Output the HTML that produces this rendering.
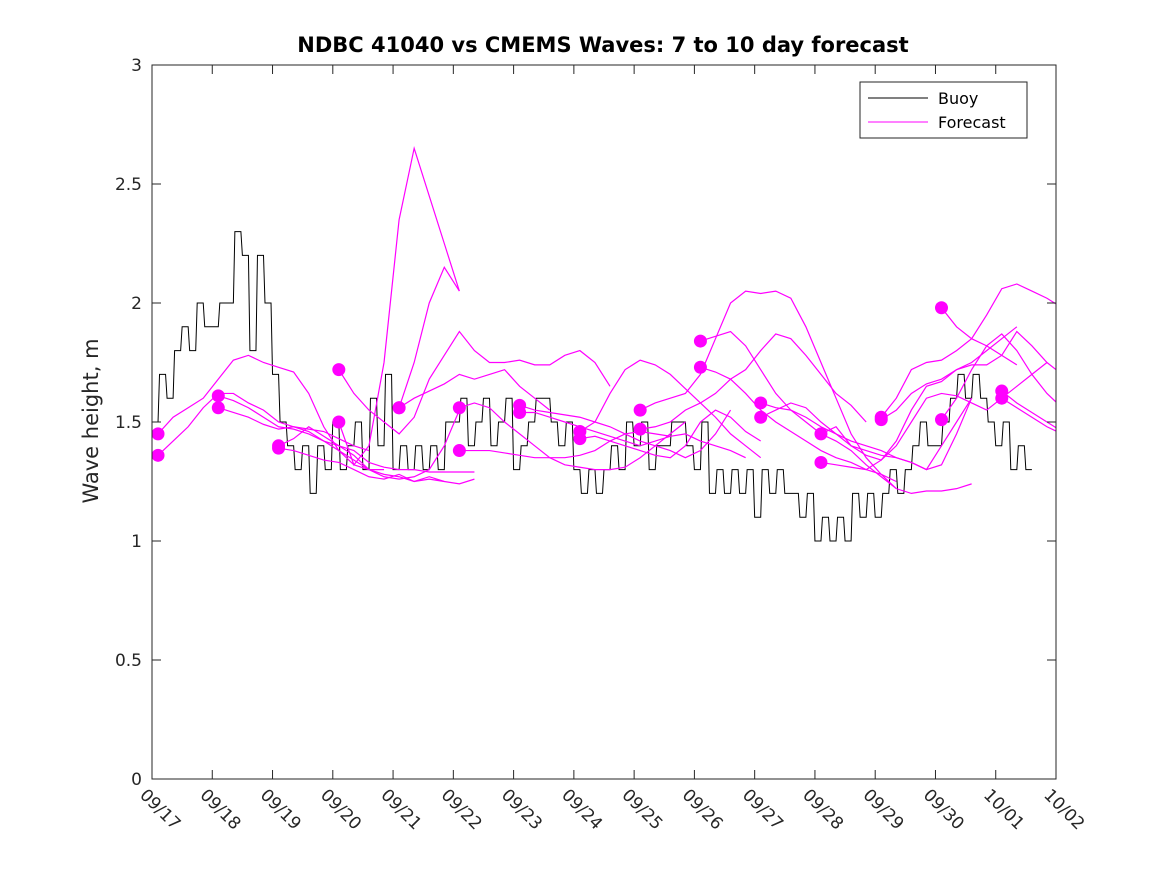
<!DOCTYPE html>
<html><head><meta charset="utf-8"><style>
body{margin:0;background:#fff}
svg{display:block;font-family:"DejaVu Sans","Liberation Sans",sans-serif}
</style></head><body>
<svg id="chart" width="1167" height="875">
<rect x="0" y="0" width="1167" height="875" fill="#fff"/>
<text x="603" y="52" text-anchor="middle" font-size="21" font-weight="bold" fill="#000">NDBC 41040 vs CMEMS Waves: 7 to 10 day forecast</text>
<text transform="translate(98,421) rotate(-90)" text-anchor="middle" font-size="21" fill="#262626">Wave height, m</text>
<defs><clipPath id="pc"><rect x="152" y="65" width="904" height="714"/></clipPath></defs>
<g id="marks" clip-path="url(#pc)"></g>
<g id="dots"></g>
<rect x="152" y="65" width="904" height="714" fill="none" stroke="#262626" stroke-width="1"/>
<g id="axes"></g>
<g>
<rect x="860" y="82" width="167" height="56" fill="#fff" stroke="#262626" stroke-width="1"/>
<line x1="868" y1="98" x2="928" y2="98" stroke="#000" stroke-width="1"/>
<text x="938" y="104" font-size="16" fill="#000">Buoy</text>
<line x1="868" y1="122" x2="928" y2="122" stroke="#f0f" stroke-width="1"/>
<text x="938" y="128" font-size="16" fill="#000">Forecast</text>
</g>
</svg>
<script>
const xTickLabels=["09/17","09/18","09/19","09/20","09/21","09/22","09/23","09/24","09/25","09/26","09/27","09/28","09/29","09/30","10/01","10/02"];
const yTicks=[0,0.5,1,1.5,2,2.5,3];
const yTickLabels=["0","0.5","1","1.5","2","2.5","3"];
const buoyStep=0.125;
const buoyValues=[1.5,1.7,1.6,1.8,1.9,1.8,2.0,1.9,
1.9,2.0,2.0,2.3,2.2,1.8,2.2,2.0,
1.7,1.5,1.4,1.3,1.4,1.2,1.4,1.3,
1.5,1.3,1.4,1.5,1.3,1.6,1.4,1.7,
1.3,1.4,1.3,1.4,1.3,1.4,1.3,1.5,
1.5,1.6,1.4,1.5,1.6,1.4,1.5,1.6,
1.3,1.4,1.5,1.6,1.6,1.5,1.4,1.5,
1.3,1.2,1.3,1.2,1.3,1.4,1.3,1.5,
1.4,1.5,1.3,1.4,1.4,1.5,1.5,1.4,
1.3,1.5,1.2,1.3,1.2,1.3,1.2,1.3,
1.1,1.3,1.2,1.3,1.2,1.2,1.1,1.2,
1.0,1.1,1.0,1.1,1.0,1.2,1.1,1.2,
1.1,1.2,1.3,1.2,1.3,1.4,1.5,1.4,
1.4,1.5,1.6,1.7,1.6,1.7,1.6,1.5,
1.4,1.5,1.3,1.4,1.3];
const fcStep=0.25;
const fcStarts=[0.1,0.1,1.1,1.1,2.1,2.1,3.1,3.1,4.1,4.1,5.1,5.1,6.1,6.1,7.1,7.1,8.1,8.1,9.1,9.1,10.1,10.1,11.1,11.1,12.1,12.1,13.1,13.1,14.1,14.1];
const fcValues=[
[1.45,1.52,1.56,1.60,1.68,1.76,1.78,1.75,1.73,1.71,1.62,1.48,1.38,1.32,1.30,1.30],
[1.36,1.42,1.48,1.56,1.62,1.62,1.58,1.55,1.50,1.48,1.47,1.46,1.43,1.40,1.38],
[1.61,1.59,1.56,1.52,1.48,1.47,1.45,1.42,1.40,1.36,1.30,1.27,1.26,1.27,1.30,1.40,1.55],
[1.56,1.54,1.52,1.49,1.47,1.48,1.46,1.42,1.38,1.34,1.30,1.28,1.27,1.25,1.26,1.25],
[1.40,1.43,1.48,1.44,1.40,1.38,1.33,1.31,1.30,1.30,1.29,1.29,1.29,1.29],
[1.39,1.38,1.36,1.34,1.33,1.30,1.27,1.26,1.28,1.25,1.27,1.25,1.24,1.26],
[1.72,1.62,1.55,1.50,1.45,1.52,1.68,1.78,1.88,1.80,1.75,1.75,1.76,1.74,1.74,1.78,1.80,1.75,1.65],
[1.50,1.32,1.40,1.75,2.35,2.65,2.45,2.25,2.05],
[1.56,1.75,2.00,2.15,2.05],
[1.56,1.60,1.63,1.66,1.70,1.68,1.70,1.72,1.65,1.60,1.55],
[1.56,1.58,1.56,1.50,1.45,1.40,1.35,1.32,1.31,1.30,1.30,1.31,1.35,1.40,1.45,1.50],
[1.38,1.38,1.38,1.37,1.36,1.35,1.35,1.35,1.36,1.38,1.42,1.45,1.46,1.45,1.44],
[1.57,1.55,1.54,1.53,1.52,1.50,1.48,1.45,1.42,1.40,1.38,1.35,1.38,1.45,1.55],
[1.54,1.54,1.52,1.50,1.48,1.46,1.44,1.42,1.40,1.42,1.44,1.45,1.42,1.40,1.38,1.35],
[1.46,1.50,1.62,1.72,1.76,1.74,1.70,1.64,1.58,1.52,1.45,1.40,1.35],
[1.43,1.44,1.42,1.40,1.38,1.36,1.35,1.40,1.50,1.55,1.52,1.46,1.42],
[1.55,1.58,1.60,1.62,1.70,1.85,2.00,2.05,2.04,2.05,2.02,1.90,1.75,1.60,1.45,1.35,1.28,1.22],
[1.47,1.48,1.50,1.55,1.58,1.62,1.68,1.72,1.80,1.87,1.85,1.78,1.70,1.62,1.57,1.50],
[1.84,1.86,1.88,1.82,1.72,1.62,1.55,1.50,1.45,1.42,1.38,1.32,1.27,1.22,1.20,1.21,1.21,1.22,1.24],
[1.73,1.71,1.68,1.62,1.55,1.50,1.46,1.42,1.38,1.35,1.33,1.30,1.28,1.25],
[1.58,1.56,1.55,1.52,1.48,1.45,1.42,1.40,1.38,1.35,1.33,1.30,1.40,1.50,1.60],
[1.52,1.55,1.58,1.56,1.50,1.45,1.40,1.38,1.36,1.35,1.33,1.30,1.32,1.45,1.60],
[1.45,1.48,1.40,1.36,1.34,1.42,1.55,1.65,1.67,1.72,1.75,1.80,1.85,1.90],
[1.33,1.32,1.31,1.30,1.34,1.40,1.50,1.60,1.62,1.61,1.58,1.55,1.60,1.65,1.70,1.75],
[1.52,1.60,1.72,1.75,1.76,1.80,1.85,1.95,2.06,2.08,2.05,2.02,1.98,1.92,1.86,1.84,1.84,1.80,1.75],
[1.51,1.55,1.62,1.66,1.68,1.72,1.74,1.74,1.78,1.88,1.82,1.75,1.70,1.65,1.60],
[1.98,1.90,1.85,1.82,1.78,1.74],
[1.51,1.60,1.72,1.82,1.87,1.80,1.70,1.62,1.56,1.52,1.48,1.45,1.42],
[1.63,1.58,1.54,1.50,1.46,1.43],
[1.60,1.56,1.52,1.48,1.45,1.41]
];
const NS="http://www.w3.org/2000/svg";
const X0=152,X1=1056,Y0=779,Y1=65,DAYS=15,YMAX=3;
function xs(d){return X0+(X1-X0)*d/DAYS;}
function ys(v){return Y0-(Y0-Y1)*v/YMAX;}
function mk(tag,attrs,parent){const e=document.createElementNS(NS,tag);for(const k in attrs)e.setAttribute(k,attrs[k]);parent.appendChild(e);return e;}
const axes=document.getElementById('axes'),marks=document.getElementById('marks'),dots=document.getElementById('dots');
xTickLabels.forEach((lab,i)=>{
  const x=xs(i);
  const t1=mk('line',{x1:x,y1:Y0,x2:x,y2:Y0-9,stroke:'#262626'},axes);
  
  
  const t2=mk('line',{x1:x,y1:Y1,x2:x,y2:Y1+9,stroke:'#262626'},axes);
  
  
  const tx=mk('text',{transform:`translate(${x-13},${Y0+17}) rotate(45)`,'font-size':17,fill:'#262626'},axes);
  tx.textContent=lab;
  
  
});
yTicks.forEach((v,i)=>{
  const y=ys(v);
  const t1=mk('line',{x1:X0,y1:y,x2:X0+9,y2:y,stroke:'#262626'},axes);
  
  
  const t2=mk('line',{x1:X1,y1:y,x2:X1-9,y2:y,stroke:'#262626'},axes);
  
  
  const tx=mk('text',{x:X0-10,y:y+6,'text-anchor':'end','font-size':17,fill:'#262626'},axes);
  tx.textContent=yTickLabels[i];
  
  
});
let bp=[];
buoyValues.forEach((v,i)=>{
  const xa=xs(i*buoyStep), xb=xs((i+0.8)*buoyStep);
  bp.push(xa+','+ys(v)); bp.push(xb+','+ys(v));
});
const bl=mk('polyline',{points:bp.join(' '),fill:'none',stroke:'#000','stroke-width':1},marks);


fcValues.forEach((vals,k)=>{
  const s=fcStarts[k];
  const pts=vals.map((v,i)=>xs(s+i*fcStep)+','+ys(v)).join(' ');
  const pl=mk('polyline',{points:pts,fill:'none',stroke:'#f0f','stroke-width':1.2},marks);
  
  
  const c=mk('circle',{cx:xs(s),cy:ys(vals[0]),r:6.5,fill:'#f0f'},dots);
  
  
});
</script>
</body></html>
